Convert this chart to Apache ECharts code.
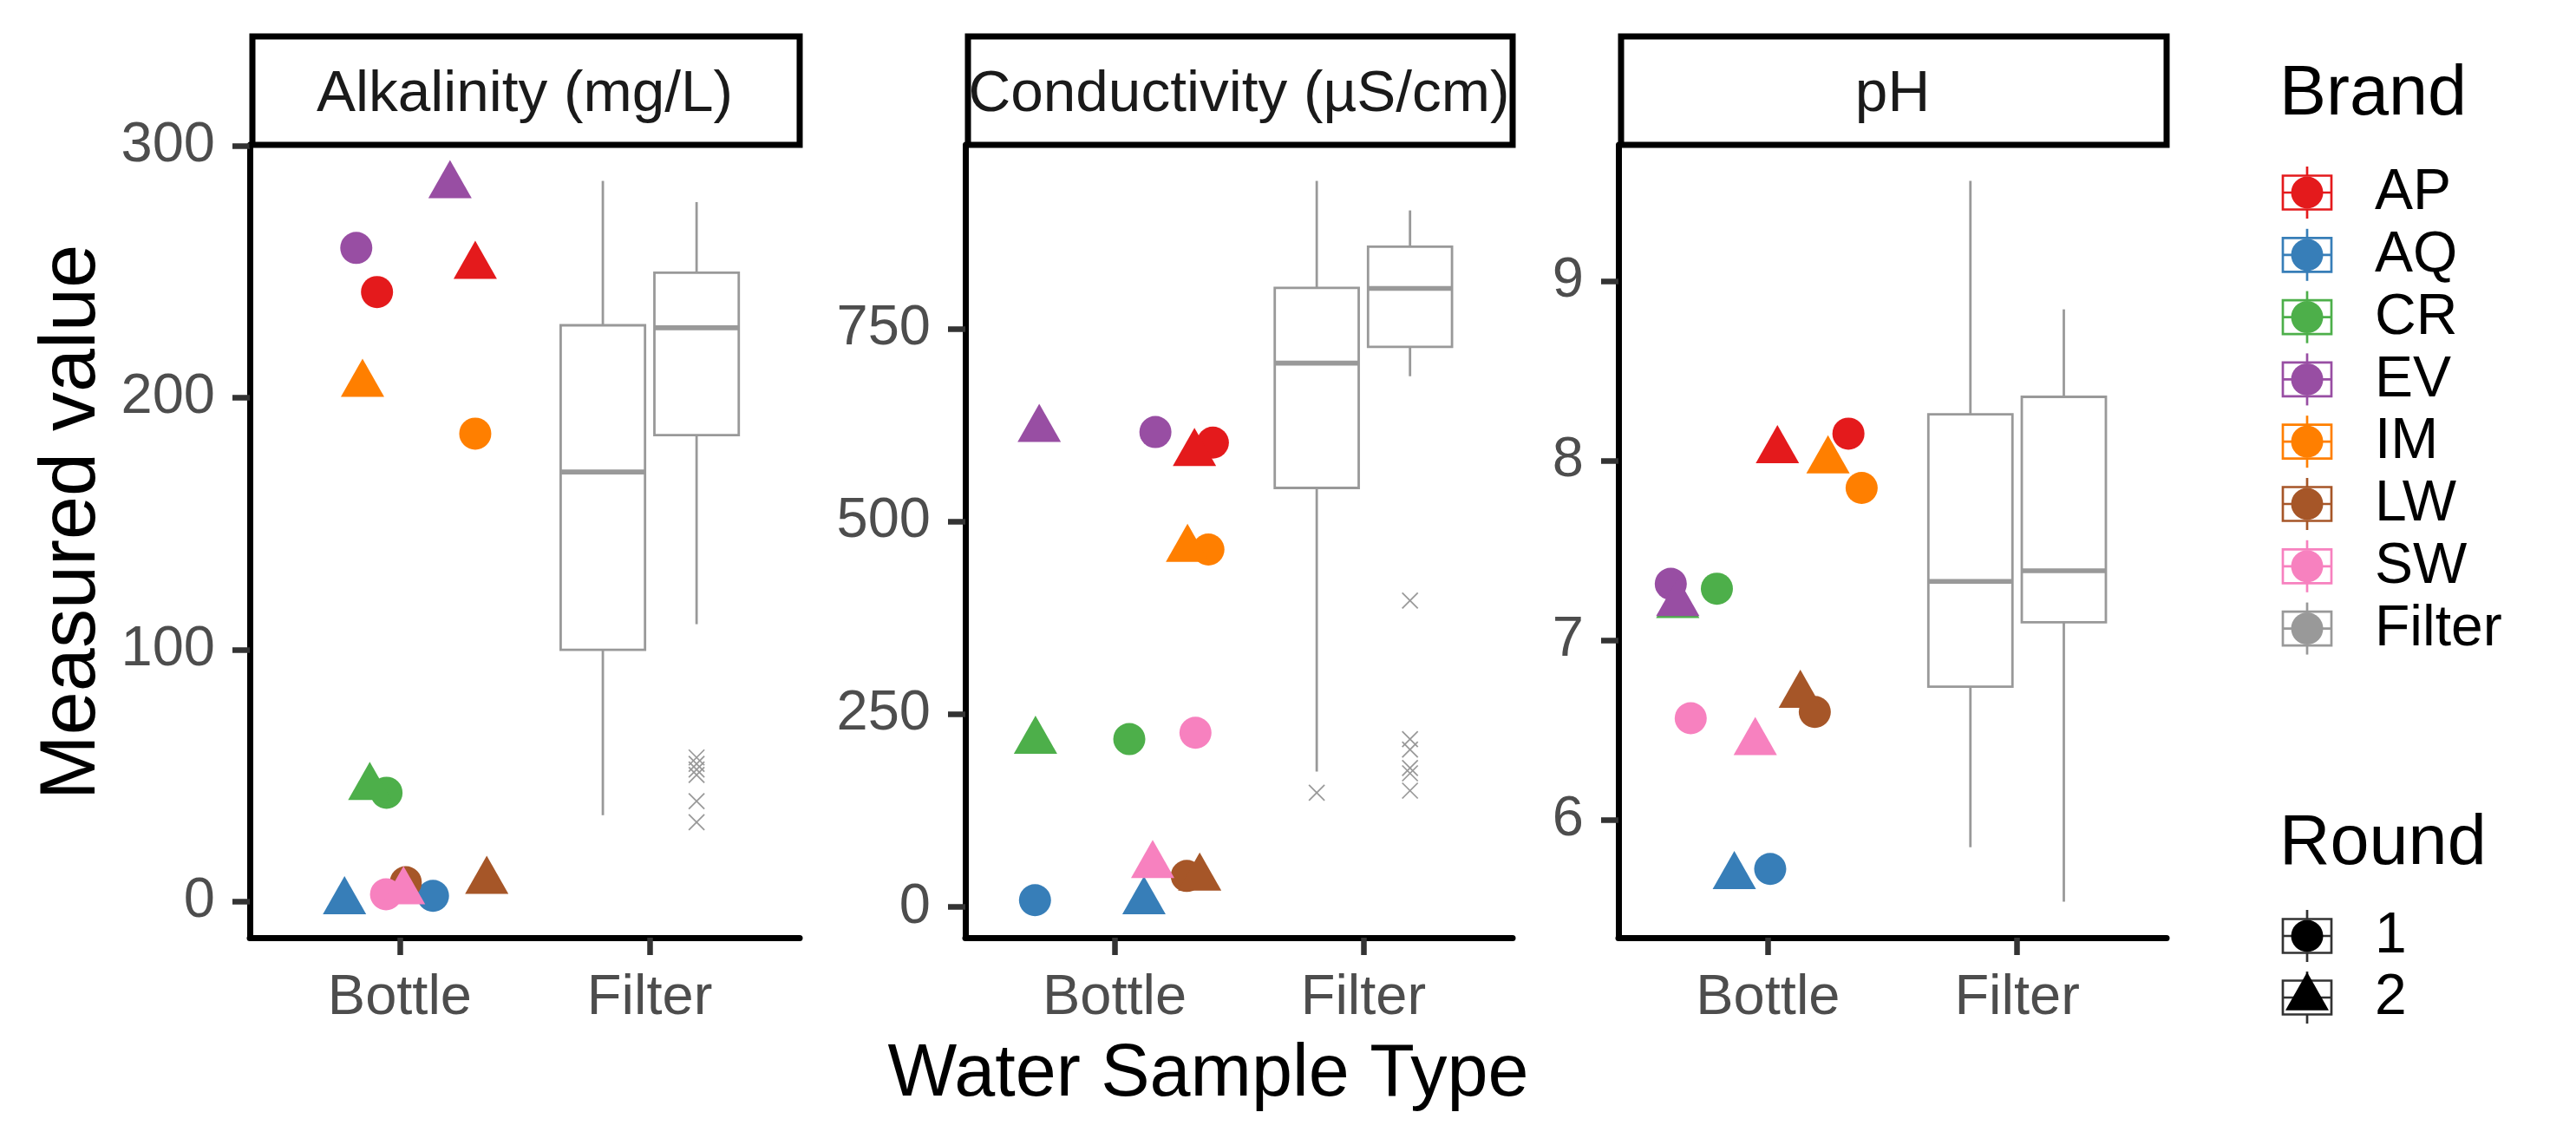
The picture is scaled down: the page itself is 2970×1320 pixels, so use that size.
<!DOCTYPE html>
<html>
<head>
<meta charset="utf-8">
<script src="https://cdn.jsdelivr.net/npm/echarts@6/dist/echarts.min.js"></script>
<style>html,body{margin:0;padding:0;background:#fff}#c{width:2970px;height:1320px}</style>
</head>
<body>
<div id="c"></div>
<script>
// ---------------- DATA ----------------
const brands = ['AP', 'AQ', 'CR', 'EV', 'IM', 'LW', 'SW'];
const legendBrands = ['AP', 'AQ', 'CR', 'EV', 'IM', 'LW', 'SW', 'Filter'];
const rounds = ['1', '2'];
const sampleTypes = ['Bottle', 'Filter'];
const panelTitles = ['Alkalinity (mg/L)', 'Conductivity (µS/cm)', 'pH'];
const xAxisTitle = 'Water Sample Type';
const yAxisTitle = 'Measured value';
const brandTitle = 'Brand';
const roundTitle = 'Round';

// Bottle samples (order of brands), Round 1 and Round 2
const alkalinityR1 = [241.9, 2.3, 43.2, 259.4, 185.7, 7.7, 2.9];
const alkalinityR2 = [252.2, 0.0, 45.4, 284.2, 205.4, 8.1, 4.0];
const conductivityR1 = [602.5, 8.9, 217.9, 616.2, 463.8, 40.3, 226.1];
const conductivityR2 = [588.6, 7.0, 215.4, 619.8, 464.3, 37.8, 54.2];
const phR1 = [8.150, 5.727, 7.287, 7.314, 7.848, 6.601, 6.566];
const phR2 = [8.056, 5.686, 7.195, 7.205, 8.000, 6.695, 6.432];

// horizontal jitter of the Bottle points (in category units)
const alkalinityJitR1 = [-0.091, 0.133, -0.053, -0.174, 0.302, 0.024, -0.055];
const alkalinityJitR2 = [0.302, -0.221, -0.120, 0.201, -0.149, 0.348, 0.015];
const conductivityJitR1 = [0.395, -0.320, 0.059, 0.164, 0.377, 0.290, 0.325];
const conductivityJitR2 = [0.321, 0.118, -0.318, -0.303, 0.293, 0.342, 0.153];
const phJitR1 = [0.323, 0.009, -0.205, -0.390, 0.376, 0.188, -0.310];
const phJitR2 = [0.038, -0.135, -0.362, -0.362, 0.241, 0.130, -0.051];

// Filter boxplots: [lower whisker, Q1, median, Q3, upper whisker] for Round 1 and Round 2
const alkalinityBoxR1 = [34.3, 99.9, 170.5, 228.7, 286.0];
const alkalinityBoxR2 = [110.1, 185.1, 227.7, 249.6, 277.6];
const conductivityBoxR1 = [175.6, 543.7, 705.6, 803.3, 942.0];
const conductivityBoxR2 = [688.6, 726.8, 802.6, 856.6, 903.7];
const phBoxR1 = [5.848, 6.742, 7.328, 8.258, 9.557];
const phBoxR2 = [5.545, 7.100, 7.387, 8.355, 8.842];

// Filter outliers
const alkalinityOutR1 = [];
const alkalinityOutR2 = [57.2, 54.7, 52.4, 50.3, 39.9, 31.5];
const conductivityOutR1 = [148.2];
const conductivityOutR2 = [397.6, 217.9, 204.2, 180.3, 173.5, 151.0];
const phOutR1 = [];
const phOutR2 = [];

// tick labels
const alkalinityTicks = [0, 100, 200, 300];
const conductivityTicks = [0, 250, 500, 750];
const phTicks = [6, 7, 8, 9];

// ---------------- STYLE / LAYOUT ----------------
const brandColors = ['#E41A1C', '#377EB8', '#4DAF4A', '#984EA3', '#FF7F00', '#A65628', '#F781BF', '#999999'];
const FILTER_COLOR = '#999999';
const FONT = "'Liberation Sans', Arial, sans-serif";
const PANEL_TOP = 167, PANEL_BOTTOM = 1081, STRIP_TOP = 42;
const panelX = [[288, 922], [1113, 1744], [1866, 2498]];
const DODGE = [-0.1875, 0.1875];
const BOX_HALF = 0.16875;
const CIRCLE_SIZE = 37;
const TRI_SIZE = [50, 44];

const panels = [
  {vals: [alkalinityR1, alkalinityR2], jit: [alkalinityJitR1, alkalinityJitR2], box: [alkalinityBoxR1, alkalinityBoxR2], out: [alkalinityOutR1, alkalinityOutR2], ticks: alkalinityTicks},
  {vals: [conductivityR1, conductivityR2], jit: [conductivityJitR1, conductivityJitR2], box: [conductivityBoxR1, conductivityBoxR2], out: [conductivityOutR1, conductivityOutR2], ticks: conductivityTicks},
  {vals: [phR1, phR2], jit: [phJitR1, phJitR2], box: [phBoxR1, phBoxR2], out: [phOutR1, phOutR2], ticks: phTicks}
];

function yRange(p) {
  const all = [].concat(p.vals[0], p.vals[1], p.box[0], p.box[1], p.out[0], p.out[1]);
  const mn = Math.min.apply(null, all), mx = Math.max.apply(null, all);
  const e = (mx - mn) * 0.05;
  return [mn - e, mx + e];
}

function renderBox(params, api) {
  const x = api.value(0);
  const lo = api.value(1), q1 = api.value(2), med = api.value(3), q3 = api.value(4), hi = api.value(5);
  const tl = api.coord([x - BOX_HALF, q3]);
  const br = api.coord([x + BOX_HALF, q1]);
  const cHi = api.coord([x, hi]), cQ3 = api.coord([x, q3]), cQ1 = api.coord([x, q1]), cLo = api.coord([x, lo]);
  const m = api.coord([x, med]);
  const st = {stroke: FILTER_COLOR, lineWidth: 2.8, fill: null};
  return {type: 'group', children: [
    {type: 'line', shape: {x1: cHi[0], y1: cHi[1], x2: cQ3[0], y2: cQ3[1]}, style: st},
    {type: 'line', shape: {x1: cQ1[0], y1: cQ1[1], x2: cLo[0], y2: cLo[1]}, style: st},
    {type: 'rect', shape: {x: tl[0], y: tl[1], width: br[0] - tl[0], height: br[1] - tl[1]}, style: {stroke: FILTER_COLOR, lineWidth: 2.8, fill: '#fff'}},
    {type: 'line', shape: {x1: tl[0], y1: m[1], x2: br[0], y2: m[1]}, style: {stroke: FILTER_COLOR, lineWidth: 5.6}}
  ]};
}

function renderCross(params, api) {
  const c = api.coord([api.value(0), api.value(1)]);
  const h = 9;
  const st = {stroke: FILTER_COLOR, lineWidth: 1.7};
  return {type: 'group', children: [
    {type: 'line', shape: {x1: c[0] - h, y1: c[1] - h, x2: c[0] + h, y2: c[1] + h}, style: st},
    {type: 'line', shape: {x1: c[0] - h, y1: c[1] + h, x2: c[0] + h, y2: c[1] - h}, style: st}
  ]};
}

const grids = [], xAxes = [], yAxes = [], series = [], graphics = [];

panels.forEach((p, pi) => {
  const [L, R] = panelX[pi];
  const yr = yRange(p);
  grids.push({left: L, top: PANEL_TOP, width: R - L, height: PANEL_BOTTOM - PANEL_TOP, containLabel: false});
  xAxes.push({
    gridIndex: pi, type: 'value', min: 0.4, max: 2.6,
    axisLine: {show: true, onZero: false, lineStyle: {color: '#000', width: 7}},
    axisTick: {show: true, customValues: [1, 2], length: 20, lineStyle: {color: '#333333', width: 6.5}},
    axisLabel: {show: true, customValues: [1, 2], margin: 38, formatter: v => sampleTypes[Math.round(v) - 1],
      fontSize: 65, color: '#4D4D4D', fontFamily: FONT},
    splitLine: {show: false}
  });
  yAxes.push({
    gridIndex: pi, type: 'value', min: yr[0], max: yr[1],
    axisLine: {show: true, onZero: false, lineStyle: {color: '#000', width: 7}},
    axisTick: {show: true, customValues: p.ticks, length: 20, lineStyle: {color: '#333333', width: 6.5}},
    axisLabel: {show: true, customValues: p.ticks, margin: 40, fontSize: 65, color: '#4D4D4D', fontFamily: FONT},
    splitLine: {show: false}
  });

  // Filter boxplots
  series.push({
    type: 'custom', name: 'Filter', xAxisIndex: pi, yAxisIndex: pi,
    renderItem: renderBox, encode: {x: 0, y: [1, 2, 3, 4, 5]},
    data: p.box.map((b, r) => [2 + DODGE[r]].concat(b)), silent: true
  });
  // outliers
  const outData = [];
  p.out.forEach((arr, r) => arr.forEach(v => outData.push([2 + DODGE[r], v])));
  series.push({
    type: 'custom', name: 'Filter outliers', xAxisIndex: pi, yAxisIndex: pi,
    renderItem: renderCross, encode: {x: 0, y: 1}, data: outData, silent: true
  });
  // Bottle points, round 1 (circles) then round 2 (triangles)
  rounds.forEach((rd, r) => {
    series.push({
      type: 'scatter', name: 'Round ' + rd, xAxisIndex: pi, yAxisIndex: pi,
      symbol: r === 0 ? 'circle' : 'triangle',
      symbolSize: r === 0 ? CIRCLE_SIZE : TRI_SIZE,
      symbolOffset: r === 0 ? [0, 0] : [0, -TRI_SIZE[1] / 6],
      data: brands.map((b, i) => ({name: b, value: [1 + p.jit[r][i], p.vals[r][i]], itemStyle: {color: brandColors[i], opacity: 1}})),
      silent: true
    });
  });

  // strip
  graphics.push({type: 'rect', shape: {x: L + 3, y: STRIP_TOP, width: R - L - 3, height: PANEL_TOP - STRIP_TOP},
    style: {fill: '#fff', stroke: '#000', lineWidth: 7}, z: 10});
  graphics.push({type: 'text', x: (L + R) / 2, y: (STRIP_TOP + PANEL_TOP) / 2 + 5,
    style: {text: panelTitles[pi], font: '67.5px ' + FONT, fill: '#1A1A1A', align: 'center', verticalAlign: 'middle'}, z: 11});
});

// axis titles
graphics.push({type: 'text', x: (panelX[0][0] + panelX[2][1]) / 2, y: 1240,
  style: {text: xAxisTitle, font: '84.5px ' + FONT, fill: '#000', align: 'center', verticalAlign: 'middle'}});
graphics.push({type: 'text', x: 84, y: 602, rotation: Math.PI / 2,
  style: {text: yAxisTitle, font: '90px ' + FONT, fill: '#000', align: 'center', verticalAlign: 'middle'}});

// legend
const KEY_X = 2660, KEY_W = 56, KEY_H = 39, WHISK = 30;
function legendKey(cx, cy, color, symbol) {
  const items = [
    {type: 'line', shape: {x1: cx, y1: cy - WHISK, x2: cx, y2: cy + WHISK}, style: {stroke: color, lineWidth: 2.7}},
    {type: 'rect', shape: {x: cx - KEY_W / 2, y: cy - KEY_H / 2, width: KEY_W, height: KEY_H}, style: {stroke: color, lineWidth: 2.7, fill: '#fff'}},
    {type: 'line', shape: {x1: cx - KEY_W / 2, y1: cy, x2: cx + KEY_W / 2, y2: cy}, style: {stroke: color, lineWidth: 2.7}}
  ];
  if (symbol === 'circle') {
    items.push({type: 'circle', shape: {cx: cx, cy: cy, r: 18.5}, style: {fill: color === '#333333' ? '#000' : color}});
  } else {
    const w = TRI_SIZE[0] / 2, h = TRI_SIZE[1];
    items.push({type: 'polygon', shape: {points: [[cx, cy - 2 * h / 3], [cx + w, cy + h / 3], [cx - w, cy + h / 3]]}, style: {fill: '#000'}});
  }
  return items;
}
graphics.push({type: 'text', x: 2628, y: 110, style: {text: brandTitle, font: '81px ' + FONT, fill: '#000', align: 'left', verticalAlign: 'middle'}});
legendBrands.forEach((b, i) => {
  const cy = 222 + 71.8 * i;
  legendKey(KEY_X, cy, brandColors[i], 'circle').forEach(g => graphics.push(g));
  graphics.push({type: 'text', x: 2738, y: cy + 1, style: {text: b, font: '66px ' + FONT, fill: '#000', align: 'left', verticalAlign: 'middle'}});
});
graphics.push({type: 'text', x: 2628, y: 974, style: {text: roundTitle, font: '81px ' + FONT, fill: '#000', align: 'left', verticalAlign: 'middle'}});
rounds.forEach((rd, r) => {
  const cy = 1079 + 71 * r;
  legendKey(KEY_X, cy, '#333333', r === 0 ? 'circle' : 'triangle').forEach(g => graphics.push(g));
  graphics.push({type: 'text', x: 2738, y: cy + 1, style: {text: rd, font: '66px ' + FONT, fill: '#000', align: 'left', verticalAlign: 'middle'}});
});

const chart = echarts.init(document.getElementById('c'), null, {renderer: 'canvas'});
chart.setOption({
  backgroundColor: '#fff',
  animation: false,
  grid: grids,
  xAxis: xAxes,
  yAxis: yAxes,
  series: series,
  graphic: {elements: graphics}
});
</script>
</body>
</html>
